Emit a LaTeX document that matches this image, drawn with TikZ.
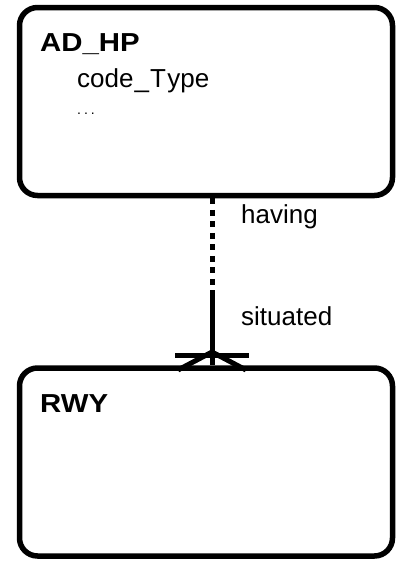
\documentclass[tikz,border=0pt]{standalone}
\usepackage{fontspec}
\setmainfont[BoldFeatures={FakeStretch=1.13}]{Liberation Sans}
\usepackage{tikz}
\newcommand{\lw}{5.5pt}
\newcommand{\boxw}{373pt}
\newcommand{\boxh}{188pt}
\tikzset{
  entity/.style={draw=black, line width=\lw, rounded corners=18pt,
    minimum width=\boxw, minimum height=\boxh, inner sep=0pt},
  lbl/.style={anchor=base west, inner sep=0pt, font=\fontsize{26}{30}\selectfont},
  rel/.style={line width=5pt},
}
\begin{document}
\begin{tikzpicture}[x=1pt, y=-1pt]
    \useasboundingbox (0,0) rectangle (396,562);

    \node[entity] (adhp) at (206,101.5) {};
    \node[entity] (rwy) at (206,462) {};

    \node[lbl, font=\fontsize{26}{30}\selectfont\bfseries] (adhpname) at (40,51) {AD\_HP};
    \node[lbl] (codetype) at (77,87) {code\kern1pt\_\kern1pt T\kern1.5pt ype};
    \node[lbl, font=\fontsize{14}{16}\selectfont] (dots) at (77,114) {.\hspace{3pt}.\hspace{3pt}.};
    \node[lbl, font=\fontsize{26}{30}\selectfont\bfseries] (rwyname) at (40,412) {RWY};

    \coordinate (mid) at (212,293);
    \draw[rel, dash pattern=on 6pt off 5.5pt] (adhp.south -| mid) -- (mid);
    \draw[rel] (mid) -- (rwy.north -| mid);
    \draw[rel] (175,355.5) -- (249,355.5);
    \draw[rel] (178,370) -- (212,352) -- (246,370);

    \node[lbl] (having) at (241,223) {having};
    \node[lbl] (situated) at (241,325) {situated};
\end{tikzpicture}
\end{document}
